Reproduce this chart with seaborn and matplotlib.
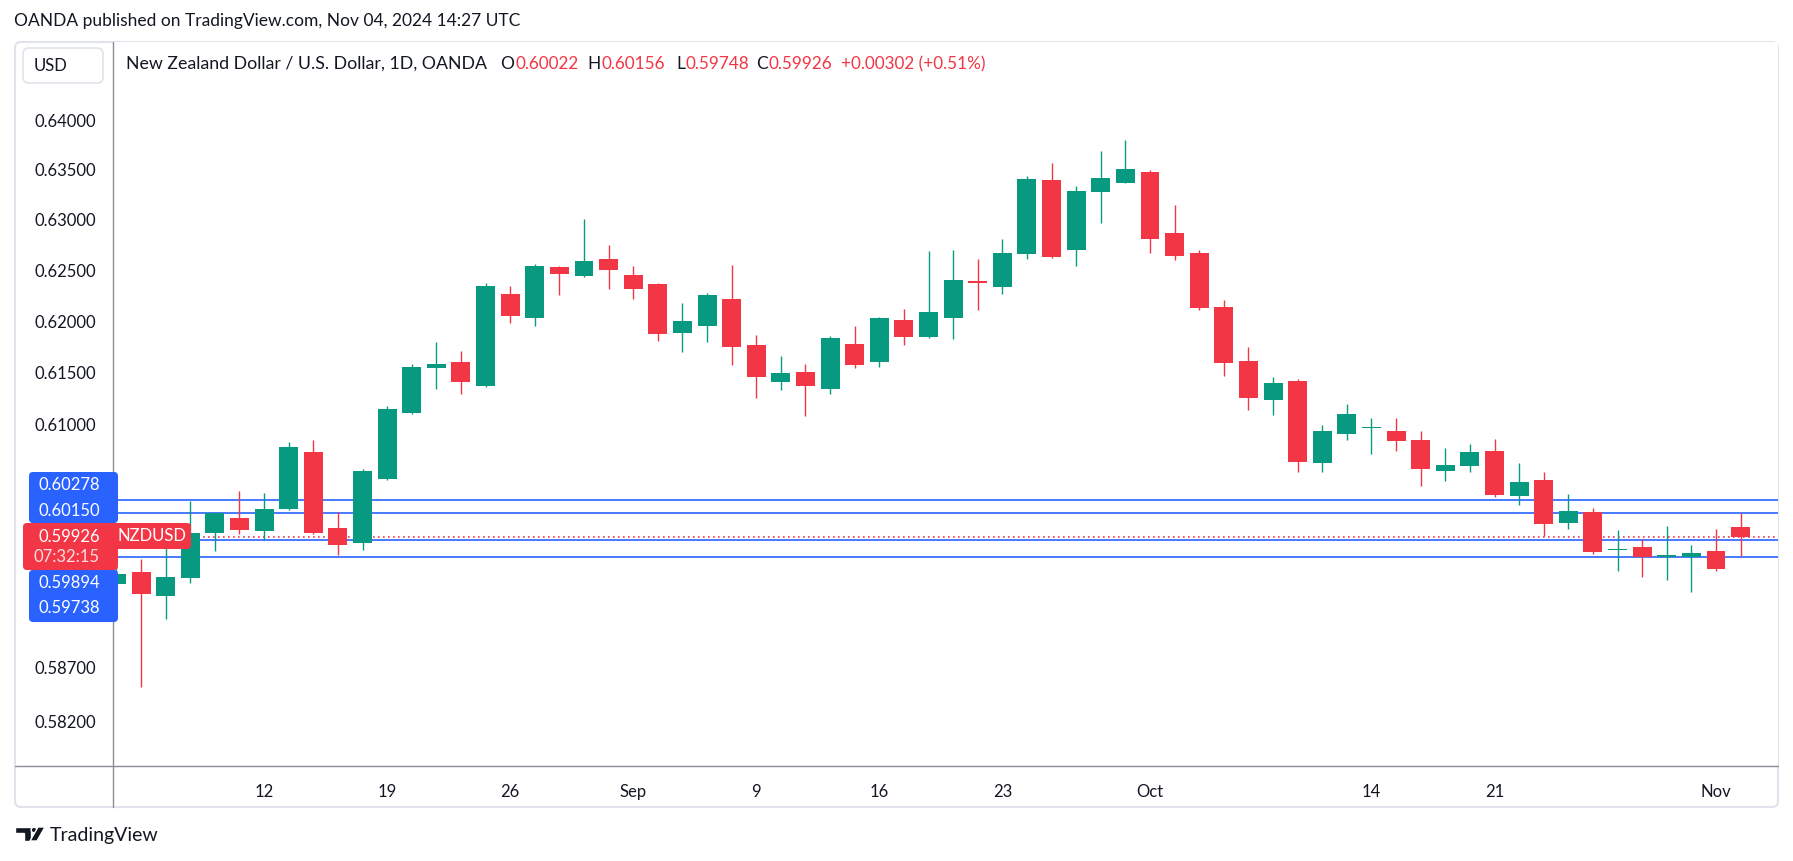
import numpy as np
import pandas as pd
import matplotlib
matplotlib.use("Agg")
import matplotlib.pyplot as plt
import matplotlib.ticker as mticker
from matplotlib.patches import FancyBboxPatch, Polygon, Circle
from matplotlib.lines import Line2D
from matplotlib.transforms import IdentityTransform
import seaborn as sns

sns.set_style("white")
plt.rcParams["font.family"] = ["Lato", "DejaVu Sans"]

# NZDUSD daily candles, Aug 2 - Nov 4 2024
dates = pd.bdate_range("2024-08-02", "2024-11-04")

opens = [0.5948, 0.5959, 0.5937, 0.5954, 0.5996, 0.6010, 0.5998, 0.6019, 0.6073, 0.6001,
         0.5987, 0.6048, 0.6111, 0.6154, 0.6160, 0.6137, 0.6227, 0.6203, 0.6253, 0.6244,
         0.6261, 0.6245, 0.6237, 0.6189, 0.6195, 0.6222, 0.6177, 0.6141, 0.6151, 0.6134,
         0.6178, 0.6160, 0.6201, 0.6185, 0.6203, 0.6240, 0.6234, 0.6266, 0.6340, 0.6270,
         0.6328, 0.6337, 0.6348, 0.6287, 0.6267, 0.6214, 0.6161, 0.6123, 0.6142, 0.6063,
         0.6091, 0.6096, 0.6094, 0.6085, 0.6055, 0.6060, 0.6074, 0.6031, 0.6047, 0.6006,
         0.6016, 0.5980, 0.5983, 0.5974, 0.5974, 0.5979, 0.60022]
highs = [0.5985, 0.5972, 0.5985, 0.6027, 0.6016, 0.6036, 0.6034, 0.6083, 0.6085, 0.6016,
         0.6057, 0.6118, 0.6158, 0.6180, 0.6171, 0.6238, 0.6235, 0.6256, 0.6254, 0.6301,
         0.6275, 0.6254, 0.6238, 0.6218, 0.6228, 0.6255, 0.6187, 0.6166, 0.6158, 0.6186,
         0.6195, 0.6204, 0.6212, 0.6269, 0.6270, 0.6261, 0.6281, 0.6344, 0.6357, 0.6334,
         0.6369, 0.6380, 0.6350, 0.6315, 0.6270, 0.6221, 0.6175, 0.6146, 0.6144, 0.6099,
         0.6120, 0.6106, 0.6106, 0.6094, 0.6077, 0.6081, 0.6086, 0.6063, 0.6054, 0.6033,
         0.6020, 0.5999, 0.5991, 0.6003, 0.5985, 0.6000, 0.60156]
lows = [0.5932, 0.5852, 0.5915, 0.5949, 0.5979, 0.5995, 0.5990, 0.6018, 0.5995, 0.5975,
        0.5980, 0.6047, 0.6110, 0.6134, 0.6129, 0.6136, 0.6198, 0.6195, 0.6226, 0.6243,
        0.6232, 0.6222, 0.6181, 0.6170, 0.6180, 0.6157, 0.6125, 0.6133, 0.6108, 0.6129,
        0.6154, 0.6155, 0.6177, 0.6184, 0.6183, 0.6211, 0.6227, 0.6261, 0.6262, 0.6254,
        0.6297, 0.6337, 0.6267, 0.6260, 0.6211, 0.6147, 0.6114, 0.6109, 0.6054, 0.6054,
        0.6085, 0.6071, 0.6074, 0.6041, 0.6046, 0.6054, 0.6030, 0.6023, 0.5993, 0.6000,
        0.5976, 0.5960, 0.5955, 0.5952, 0.5941, 0.5960, 0.59748]
closes = [0.5958, 0.5939, 0.5955, 0.5996, 0.6015, 0.5999, 0.6019, 0.6078, 0.5996, 0.5985,
          0.6055, 0.6115, 0.6155, 0.6158, 0.6141, 0.6235, 0.6205, 0.6254, 0.6246, 0.6259,
          0.6250, 0.6232, 0.6188, 0.6200, 0.6226, 0.6175, 0.6146, 0.6150, 0.6137, 0.6184,
          0.6157, 0.6203, 0.6185, 0.6209, 0.6241, 0.6238, 0.6267, 0.6341, 0.6263, 0.6329,
          0.6342, 0.6351, 0.6281, 0.6264, 0.6213, 0.6159, 0.6125, 0.6140, 0.6064, 0.6094,
          0.6110, 0.6097, 0.6084, 0.6057, 0.6061, 0.6073, 0.6032, 0.6045, 0.6005, 0.6017,
          0.5978, 0.5981, 0.5974, 0.5975, 0.5977, 0.59624, 0.59926]

levels = [0.60278, 0.60150, 0.59894, 0.59738]
y_ticks = [0.640, 0.635, 0.630, 0.625, 0.620, 0.615, 0.610, 0.587, 0.582]
x_tick_dates = ["2024-08-12", "2024-08-19", "2024-08-26", "2024-09-02", "2024-09-09",
                "2024-09-16", "2024-09-23", "2024-10-01", "2024-10-14", "2024-10-21",
                "2024-11-01"]
x_tick_labels = ["12", "19", "26", "Sep", "9", "16", "23", "Oct", "14", "21", "Nov"]

GREEN = "#089981"
RED = "#F23645"
BLUE = "#2962FF"
TEXT = "#131722"

df = pd.DataFrame({"date": dates, "open": opens, "high": highs, "low": lows, "close": closes})
df["idx"] = np.arange(len(df))
df["color"] = np.where(df["close"] >= df["open"], GREEN, RED)

W, H = 1793, 861
fig = plt.figure(figsize=(W / 100, H / 100), dpi=100)
px = IdentityTransform()


def fx(x):
    return x / W


def fy(y):
    return 1 - y / H


ax = fig.add_axes([fx(113), fy(766), fx(1778) - fx(113), fy(42) - fy(766)])
ax.set_yscale("log")
ax.set_xlim(-0.14, 67.52)
ax.set_ylim(0.57797, 0.64794)

# candles
ax.vlines(df["idx"], df["low"], df["high"], colors=df["color"], lw=1.0, zorder=2)
body_lo = df[["open", "close"]].min(axis=1)
body_h = (df["close"] - df["open"]).abs().clip(lower=0.00009)
ax.bar(df["idx"], body_h, bottom=body_lo, width=0.77, color=df["color"], linewidth=0, zorder=3)

# horizontal levels and last price
for lv in levels:
    ax.axhline(lv, color=BLUE, lw=1.2, zorder=1)
ax.axhline(closes[-1], color=RED, lw=1.2, ls=(0, (1, 2)), zorder=1)

ax.yaxis.set_major_locator(mticker.FixedLocator(y_ticks))
ax.yaxis.set_minor_locator(mticker.NullLocator())
ax.yaxis.set_major_formatter(mticker.FuncFormatter(lambda v, p: f"{v:.5f}"))
ax.set_xticks([df.index[df["date"] == pd.Timestamp(d)][0] for d in x_tick_dates])
ax.set_xticklabels(x_tick_labels)
ax.tick_params(axis="both", length=0, labelsize=12, labelcolor=TEXT)
ax.tick_params(axis="y", pad=12)
ax.tick_params(axis="x", pad=13)
for s in ax.spines.values():
    s.set_visible(False)


def add_box(x0, y0, x1, y1, color, r=4, z=5, lw=0, ec=None):
    p = FancyBboxPatch((x0, H - y1), x1 - x0, y1 - y0,
                       boxstyle=f"round,pad=0,rounding_size={r}",
                       fc=color, ec=ec if ec else color, lw=lw, transform=px, zorder=z)
    fig.add_artist(p)


# outer frame and axis separators
add_box(15, 42, 1778, 807, "none", r=6, z=0, lw=1.5, ec="#E0E3EB")
fig.add_artist(Line2D([113, 113], [H - 42, H - 807], color="#8A8D96", lw=1, transform=px))
fig.add_artist(Line2D([15, 1778], [H - 766, H - 766], color="#8A8D96", lw=1, transform=px))

# USD box
add_box(23, 48, 103, 83, "white", r=6, z=2, lw=1.2, ec="#E0E3EB")
fig.text(34, H - 66, "USD", transform=px, fontsize=12, color=TEXT, va="center", ha="left")

# price labels on the axis
add_box(29, 472, 118, 523, BLUE, r=4)
add_box(29, 570, 118, 622, BLUE, r=4)
add_box(23, 523, 118, 570, RED, r=4, z=6)
add_box(108, 523, 191, 549, RED, r=4, z=6)
label_pos = [(levels[0], 485), (levels[1], 511), (levels[2], 583), (levels[3], 608)]
for val, yy in label_pos:
    fig.text(100, H - yy, f"{val:.5f}", transform=px, fontsize=12, color="white",
             ha="right", va="center", zorder=7)
fig.text(100, H - 537, f"{closes[-1]:.5f}", transform=px, fontsize=12, color="white",
         ha="right", va="center", zorder=7)
fig.text(100, H - 557, "07:32:15", transform=px, fontsize=12, color="#FCDDE0",
         ha="right", va="center", zorder=7)
fig.text(152, H - 536, "NZDUSD", transform=px, fontsize=12, color="white",
         ha="center", va="center", zorder=7)

# header lines
HY = H - 64
fig.text(14, H - 21, "OANDA published on TradingView.com, Nov 04, 2024 14:27 UTC",
         transform=px, fontsize=12.5, color=TEXT, va="center")
fig.text(126, HY, "New Zealand Dollar / U.S. Dollar, 1D, OANDA", transform=px,
         fontsize=12.8, color=TEXT, va="center")
renderer = fig.canvas.get_renderer()
chg = closes[-1] - closes[-2]
ohlc = [("O", opens[-1], 500), ("H", highs[-1], 587), ("L", lows[-1], 676), ("C", closes[-1], 756)]
for letter, val, xl in ohlc:
    t = fig.text(xl, HY, letter, transform=px, fontsize=12.5, color=TEXT, va="center")
    bb = t.get_window_extent(renderer)
    fig.text(bb.x1 + 1, HY, f"{val:.5f}", transform=px, fontsize=12.3, color=RED, va="center")
fig.text(841, HY, f"{chg:+.5f} ({chg / closes[-2] * 100:+.2f}%)", transform=px,
         fontsize=12.3, color=RED, va="center")

# TradingView logo
fig.add_artist(Polygon([(15, H - 827), (31, H - 827), (31, H - 841), (24, H - 841),
                        (24, H - 833), (15, H - 833)], closed=True, fc=TEXT, transform=px))
fig.add_artist(Circle((34, H - 830), 2.8, fc=TEXT, transform=px))
fig.add_artist(Polygon([(38, H - 827), (45, H - 827), (37, H - 841), (30, H - 841)],
                       closed=True, fc=TEXT, transform=px))
fig.text(50, H - 835, "TradingView", transform=px, fontsize=14, color=TEXT, va="center")

fig.savefig("out.png", dpi=100)
